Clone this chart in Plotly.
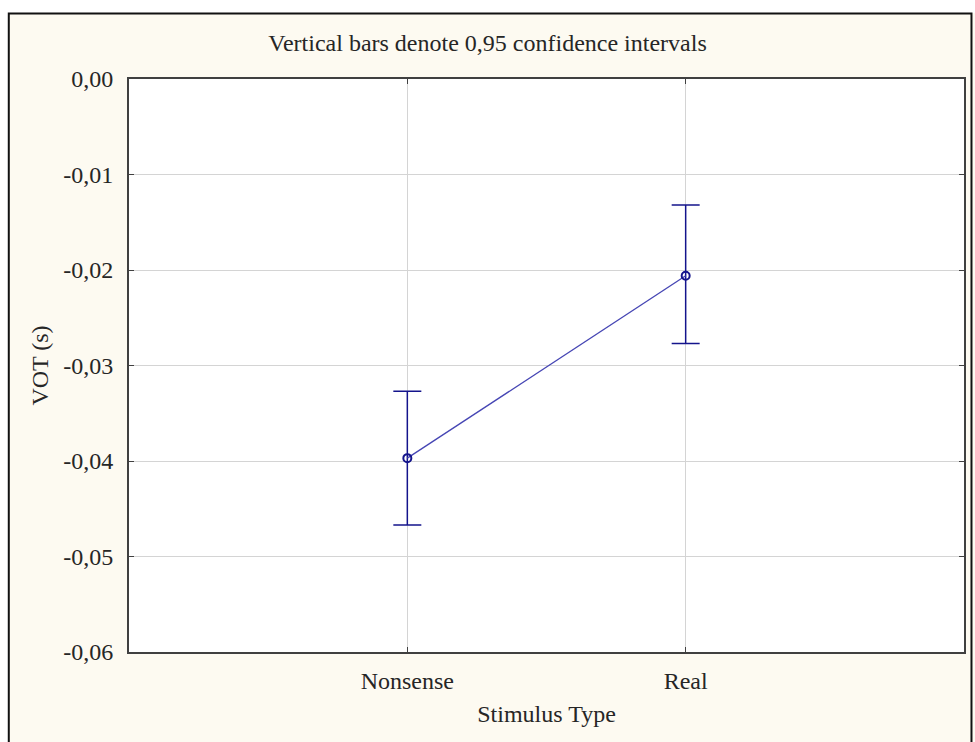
import plotly.graph_objects as go

categories = ["Nonsense", "Real"]
cat_pos = [1, 2]
means = [-0.0397, -0.0206]
ci_upper = [-0.0327, -0.0132]
ci_lower = [-0.0467, -0.0277]
y_tickvals = [0.0, -0.01, -0.02, -0.03, -0.04, -0.05, -0.06]
y_ticktext = ["0,00", "-0,01", "-0,02", "-0,03", "-0,04", "-0,05", "-0,06"]

err_plus = [u - m for u, m in zip(ci_upper, means)]
err_minus = [m - l for m, l in zip(means, ci_lower)]

FONT = "Liberation Serif, Times New Roman, serif"
NAVY = "#14148c"
FS = 24
TXT = "#262626"

fig = go.Figure()
fig.add_trace(go.Scatter(
    x=cat_pos, y=means, mode="lines+markers",
    line=dict(color="#4646b4", width=1.3),
    marker=dict(symbol="circle-open", size=8, color=NAVY, line=dict(width=2, color=NAVY)),
    error_y=dict(type="data", symmetric=False, array=err_plus, arrayminus=err_minus,
                 color=NAVY, thickness=1.5, width=14),
    showlegend=False,
))

W, H = 975, 742
L, R, T, B = 129, 9, 79, 90
pw, ph = W - L - R, H - T - B

def px(x):
    return (x - L) / pw

def py(y):
    return (H - B - y) / ph

# white strips outside the frame and the frame itself
fig.add_shape(type="rect", xref="paper", yref="paper", x0=px(-5), x1=px(W + 5), y0=py(13), y1=py(-5),
              fillcolor="white", line_width=0, layer="below")
fig.add_shape(type="rect", xref="paper", yref="paper", x0=px(-5), x1=px(8), y0=py(H + 5), y1=py(-5),
              fillcolor="white", line_width=0, layer="below")
fig.add_shape(type="rect", xref="paper", yref="paper", x0=px(8.5), x1=px(973.5), y0=py(H + 5), y1=py(13.5),
              line=dict(color="#111111", width=2), fillcolor="rgba(0,0,0,0)")

fig.update_layout(
    width=W, height=H,
    margin=dict(l=L, r=R, t=T, b=B),
    paper_bgcolor="#fdfaf1",
    plot_bgcolor="white",
    font=dict(family=FONT, size=FS, color=TXT),
    title=dict(text="Vertical bars denote 0,95 confidence intervals", x=0.5, xanchor="center",
               y=1 - 43 / H, yanchor="middle", font=dict(family=FONT, size=FS, color=TXT)),
    xaxis=dict(range=[0, 3], tickvals=cat_pos, ticktext=categories,
               showgrid=True, gridcolor="#d4d4d4", gridwidth=1,
               showline=True, linecolor="#404040", linewidth=2, mirror="ticks",
               ticks="inside", ticklen=5, tickcolor="#404040",
               zeroline=False, ticklabelstandoff=6,
               title=dict(text="Stimulus Type", standoff=12, font=dict(size=FS))),
    yaxis=dict(range=[-0.06, 0.0], tickvals=y_tickvals, ticktext=y_ticktext,
               showgrid=True, gridcolor="#d4d4d4", gridwidth=1,
               showline=True, linecolor="#404040", linewidth=2, mirror="ticks",
               ticks="inside", ticklen=5, tickcolor="#404040",
               zeroline=False, ticklabelstandoff=9,
               title=dict(text="VOT (s)", standoff=8, font=dict(size=FS))),
)

fig.write_html("out.html", config={"displayModeBar": False},
               post_script="document.body.style.margin='0';document.body.style.padding='0';")
